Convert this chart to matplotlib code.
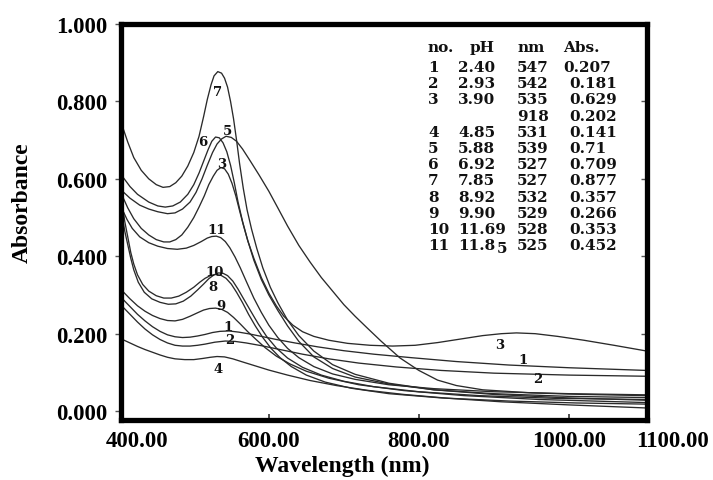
import matplotlib.pyplot as plt

# --- spectra: wavelength (nm) / absorbance ---
c1_nm = [405, 415, 425, 435, 445, 455, 465, 475, 485, 495, 505, 515, 525, 535, 547, 560, 575, 590, 610,
         635, 665, 700, 740, 790, 850, 920, 1000, 1104]
c1_abs = [0.29, 0.27, 0.25, 0.233, 0.218, 0.206, 0.197, 0.192, 0.19, 0.191, 0.194, 0.198, 0.203, 0.206,
          0.207, 0.204, 0.199, 0.193, 0.185, 0.176, 0.166, 0.156, 0.147, 0.138, 0.128, 0.119, 0.112, 0.105]

c2_nm = [405, 415, 425, 435, 445, 455, 465, 475, 485, 495, 505, 515, 528, 542, 555, 570, 590, 615, 645,
         680, 720, 770, 830, 900, 1000, 1104]
c2_abs = [0.27, 0.25, 0.23, 0.212, 0.197, 0.185, 0.176, 0.17, 0.168, 0.168, 0.17, 0.173, 0.178, 0.181,
          0.18, 0.176, 0.169, 0.159, 0.147, 0.135, 0.124, 0.114, 0.105, 0.098, 0.093, 0.09]

c3_nm = [405, 412, 420, 430, 440, 450, 460, 468, 476, 484, 492, 500, 507, 514, 520, 526, 531, 536, 541,
         546, 551, 556, 561, 566, 572, 580, 590, 600, 610, 620, 632, 645, 660, 680, 705, 735, 765, 795,
         825, 855, 885, 910, 930, 955, 985, 1020, 1060, 1104]
c3_abs = [0.555, 0.525, 0.497, 0.472, 0.455, 0.443, 0.437, 0.437, 0.443, 0.455, 0.475, 0.5, 0.527, 0.556,
          0.585, 0.607, 0.622, 0.629, 0.626, 0.612, 0.588, 0.556, 0.518, 0.481, 0.44, 0.395, 0.345, 0.305,
          0.272, 0.245, 0.222, 0.205, 0.193, 0.183, 0.175, 0.17, 0.168, 0.17, 0.177, 0.186, 0.195, 0.2,
          0.202, 0.2, 0.193, 0.183, 0.17, 0.155]

c4_nm = [405, 415, 425, 435, 445, 455, 465, 475, 488, 500, 512, 522, 531, 541, 552, 565, 580, 600, 625,
         655, 690, 730, 780, 840, 910, 1000, 1104]
c4_abs = [0.185, 0.176, 0.167, 0.159, 0.152, 0.145, 0.139, 0.135, 0.133, 0.133, 0.136, 0.139, 0.141, 0.14,
          0.135, 0.127, 0.118, 0.106, 0.093, 0.079, 0.066, 0.054, 0.043, 0.033, 0.024, 0.016, 0.008]

c5_nm = [405, 415, 428, 440, 452, 465, 475, 485, 495, 503, 511, 518, 525, 531, 537, 543, 550, 557, 565,
         575, 587, 600, 612, 625, 640, 655, 670, 685, 700, 715, 731, 750, 775, 800, 825, 850, 885, 950,
         1020, 1104]
c5_abs = [0.568, 0.55, 0.532, 0.522, 0.515, 0.51, 0.512, 0.522, 0.54, 0.565, 0.6, 0.635, 0.668, 0.69,
          0.703, 0.71, 0.707, 0.697, 0.677, 0.647, 0.61, 0.568, 0.525, 0.478, 0.428, 0.385, 0.345, 0.31,
          0.275, 0.245, 0.215, 0.18, 0.137, 0.105, 0.08, 0.066, 0.055, 0.047, 0.043, 0.04]

c6_nm = [405, 415, 425, 440, 452, 462, 472, 482, 492, 500, 507, 513, 519, 524, 529, 534, 539, 544, 549,
         554, 559, 565, 572, 580, 590, 600, 612, 625, 640, 660, 685, 715, 760, 820, 900, 1000, 1104]
c6_abs = [0.606, 0.58, 0.56, 0.54, 0.53, 0.527, 0.53, 0.54, 0.56, 0.585, 0.615, 0.645, 0.675, 0.697,
          0.708, 0.706, 0.693, 0.67, 0.635, 0.59, 0.54, 0.49, 0.44, 0.39, 0.34, 0.30, 0.26, 0.22, 0.18,
          0.14, 0.11, 0.088, 0.07, 0.055, 0.045, 0.038, 0.035]

c7_nm = [405, 412, 420, 430, 440, 450, 459, 468, 476, 484, 492, 500, 507, 513, 518, 523, 527, 532, 537,
         541, 545, 549, 553, 557, 561, 566, 571, 577, 584, 592, 602, 612, 625, 640, 660, 685, 715, 760,
         820, 900, 1000, 1104]
c7_abs = [0.735, 0.695, 0.655, 0.622, 0.6, 0.585, 0.578, 0.58, 0.59, 0.607, 0.633, 0.668, 0.71, 0.76,
          0.805, 0.843, 0.866, 0.877, 0.873, 0.86, 0.837, 0.8, 0.755, 0.7, 0.64, 0.575, 0.52, 0.47, 0.42,
          0.37, 0.32, 0.28, 0.235, 0.195, 0.155, 0.12, 0.095, 0.072, 0.055, 0.043, 0.034, 0.028]

c8_nm = [405, 408, 412, 416, 420, 426, 434, 444, 455, 466, 476, 486, 496, 505, 513, 520, 527, 533, 539,
         545, 552, 559, 567, 576, 586, 597, 610, 625, 645, 670, 700, 740, 800, 880, 980, 1104]
c8_abs = [0.50, 0.465, 0.43, 0.395, 0.365, 0.333, 0.307, 0.29, 0.281, 0.276, 0.277, 0.284, 0.297, 0.313,
          0.328, 0.342, 0.352, 0.357, 0.356, 0.35, 0.336, 0.315, 0.288, 0.258, 0.225, 0.193, 0.163, 0.137,
          0.113, 0.093, 0.077, 0.063, 0.05, 0.04, 0.033, 0.03]

c9_nm = [405, 415, 425, 435, 445, 455, 465, 475, 485, 495, 505, 513, 521, 529, 537, 545, 553, 562, 572,
         583, 595, 610, 628, 650, 680, 720, 780, 860, 960, 1104]
c9_abs = [0.31, 0.29, 0.272, 0.258, 0.247, 0.239, 0.234, 0.233, 0.237, 0.245, 0.254, 0.261, 0.265, 0.266,
          0.263, 0.255, 0.242, 0.225, 0.205, 0.185, 0.164, 0.142, 0.122, 0.103, 0.085, 0.068, 0.053, 0.04,
          0.03, 0.022]

c10_nm = [405, 408, 412, 416, 420, 425, 432, 440, 450, 460, 470, 480, 490, 500, 508, 515, 522, 529, 536,
          543, 550, 557, 565, 573, 582, 592, 603, 615, 630, 650, 675, 710, 760, 830, 920, 1010, 1104]
c10_abs = [0.53, 0.49, 0.45, 0.41, 0.38, 0.352, 0.327, 0.31, 0.298, 0.292, 0.292, 0.297, 0.307, 0.32,
           0.333, 0.343, 0.35, 0.353, 0.351, 0.343, 0.328, 0.307, 0.28, 0.25, 0.22, 0.19, 0.162, 0.138,
           0.115, 0.093, 0.075, 0.059, 0.045, 0.034, 0.026, 0.021, 0.018]

c11_nm = [405, 411, 418, 428, 440, 452, 465, 478, 490, 500, 510, 518, 524, 530, 536, 542, 548, 555, 562,
          570, 580, 590, 600, 612, 625, 640, 660, 685, 715, 760, 820, 900, 1000, 1104]
c11_abs = [0.52, 0.495, 0.472, 0.45, 0.435, 0.426, 0.42, 0.418, 0.421, 0.428, 0.438, 0.447, 0.451, 0.452,
           0.448, 0.438, 0.422, 0.398, 0.37, 0.335, 0.292, 0.255, 0.222, 0.19, 0.162, 0.138, 0.115, 0.096,
           0.082, 0.068, 0.058, 0.05, 0.045, 0.042]

# curve number labels (nm, absorbance)
lbl_text = ['7', '6', '5', '3', '11', '10', '8', '9', '1', '2', '4', '3', '1', '2']
lbl_nm = [532, 512, 545, 537, 531, 528, 525, 536, 545, 548, 533, 908, 939, 959]
lbl_abs = [0.826, 0.697, 0.725, 0.64, 0.47, 0.361, 0.323, 0.274, 0.219, 0.186, 0.111, 0.173, 0.132, 0.085]

# table in the upper right
tbl_no = ['1', '2', '3', '', '4', '5', '6', '7', '8', '9', '10', '11']
tbl_ph = ['2.40', '2.93', '3.90', '', '4.85', '5.88', '6.92', '7.85', '8.92', '9.90', '11.69', '11.8']
tbl_nm = ['547', '542', '535', '918', '531', '539', '527', '527', '532', '529', '528', '525']
tbl_abs = ['0.207', '0.181', '0.629', '0.202', '0.141', '0.71', '0.709', '0.877', '0.357', '0.266',
           '0.353', '0.452']

yticks = [0.0, 0.2, 0.4, 0.6, 0.8, 1.0]
xtick_pos = [424, 600, 800, 1000]
xtick_lbl = ['400.00', '600.00', '800.00', '1000.00']

W, H = 713, 481
fig = plt.figure(figsize=(W / 100, H / 100), dpi=100)
ax = fig.add_axes([121 / W, 1 - 421 / H, 526 / W, 396 / H])

curves = [(c1_nm, c1_abs), (c2_nm, c2_abs), (c3_nm, c3_abs), (c4_nm, c4_abs), (c5_nm, c5_abs),
          (c6_nm, c6_abs), (c7_nm, c7_abs), (c8_nm, c8_abs), (c9_nm, c9_abs), (c10_nm, c10_abs),
          (c11_nm, c11_abs)]
for nm, a in curves:
    ax.plot(nm, a, color='#2a2a2a', lw=0.95, solid_joinstyle='round')

for t, x, y in zip(lbl_text, lbl_nm, lbl_abs):
    ax.text(x, y, t, ha='center', va='center', fontsize=9.5, fontweight='bold',
            family='DejaVu Serif', color='#111111')

ax.set_xlim(403, 1104)
ax.set_ylim(-0.023, 1.0)

serif = 'Liberation Serif'
ax.set_yticks(yticks)
ax.set_yticklabels(['%.3f' % v for v in yticks], fontsize=16.5, fontweight='bold', family=serif)
ax.set_xticks(xtick_pos)
ax.set_xticklabels(xtick_lbl, fontsize=16.5, fontweight='bold', family=serif)
ax.tick_params(axis='x', length=0, pad=7)
ax.tick_params(axis='y', length=4, width=1, pad=6, color='#555555')
# small inward marks at the bottom and on the right frame
ax.set_xticks([600, 800, 1000], minor=True)
ax.tick_params(axis='x', which='minor', direction='in', length=4, width=1.2, color='#333333')
ax.xaxis.remove_overlapping_locs = False
ax.set_yticks([0.2, 0.4, 0.6, 0.8], minor=True)
ax.tick_params(axis='y', which='minor', left=False, right=True, direction='in', length=4, width=1,
               color='#555555')
ax.yaxis.remove_overlapping_locs = False
ax.text(1.0 + 25 / 526, -10 / 396, '1100.00', transform=ax.transAxes, ha='center', va='top',
        fontsize=16.5, fontweight='bold', family=serif, clip_on=False)

for s in ax.spines.values():
    s.set_linewidth(3.8)
    s.set_color('black')

fig.text(342 / W, 1 - 466 / H, 'Wavelength (nm)', ha='center', va='center', fontsize=17,
         fontweight='bold', family=serif)
fig.text(22 / W, 1 - 203 / H, 'Absorbance', ha='center', va='center', rotation=90, fontsize=17,
         fontweight='bold', family=serif)

# table
tf = dict(fontsize=11, fontweight='bold', family='DejaVu Serif', va='center', ha='left', color='#111111')
for x, t in [(428, 'no.'), (470, 'pH'), (517, 'nm'), (563, 'Abs.')]:
    fig.text(x / W, 1 - 48 / H, t, **tf)
for i in range(len(tbl_no)):
    y = 68 + i * 16.2
    fig.text(428 / W, 1 - y / H, tbl_no[i], **tf)
    fig.text(458 / W, 1 - y / H, tbl_ph[i], **tf)
    fig.text(517 / W, 1 - y / H, tbl_nm[i], **tf)
    fig.text((563 if i == 0 else 569) / W, 1 - y / H, tbl_abs[i], **tf)
fig.text(497 / W, 1 - (68 + 11 * 16.2 + 3) / H, '5', **tf)

fig.savefig('out.png', dpi=100)
